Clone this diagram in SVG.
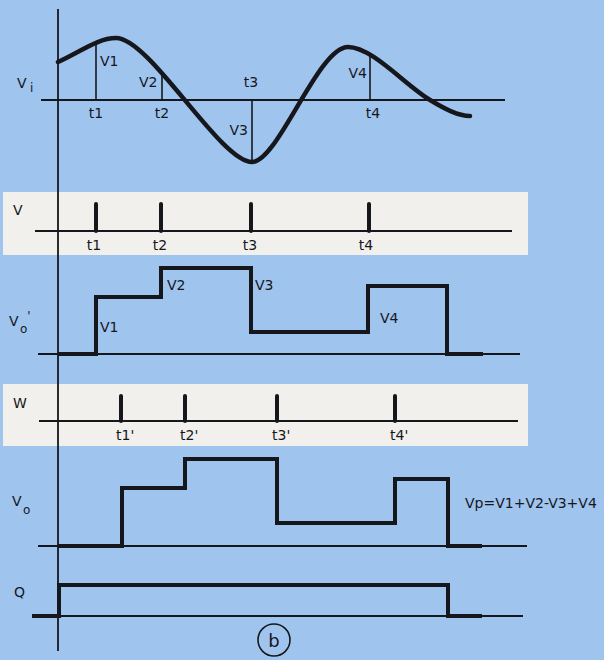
<svg xmlns="http://www.w3.org/2000/svg" width="604" height="660" viewBox="0 0 604 660">
<style>
.bg{fill:#9fc4ee}
.band{fill:#f1f0ec}
.ax{stroke:#16171d;stroke-width:1.8;fill:none}
.thin{stroke:#16171d;stroke-width:1.6;fill:none}
.curve{stroke:#16171d;stroke-width:4.5;fill:none;stroke-linecap:round}
.wave{stroke:#16171d;stroke-width:4;fill:none;stroke-linejoin:miter}
.pulse{stroke:#16171d;stroke-width:4;stroke-linecap:round}
text{font-family:"DejaVu Sans","Liberation Sans",sans-serif;font-size:14px;fill:#16171d}
.tc{text-anchor:middle}
.sub{font-size:12px}
</style>
<rect class="bg" x="0" y="0" width="604" height="660"/>
<g id="bands">
<rect class="band" x="3" y="192" width="525" height="63"/>
<rect class="band" x="3" y="384" width="525" height="62"/>
</g>
<g id="axis-main">
<line class="ax" x1="58" y1="9" x2="58" y2="651"/>
</g>
<g id="vi-plot">
<line class="ax" x1="41" y1="100" x2="505" y2="100"/>
<path class="curve" d="M58,62 C80,52 98,38 116,38 C150,38 220,162 252,162 C278,162 318,47 348,47 C372,47 405,85 430,100 C445,109 458,116 470,116"/>
<line class="thin" x1="96" y1="43" x2="96" y2="100"/>
<line class="thin" x1="162" y1="72" x2="162" y2="100"/>
<line class="thin" x1="252" y1="100" x2="252" y2="160"/>
<line class="thin" x1="370" y1="56" x2="370" y2="100"/>
<text x="17" y="88">V</text>
<text class="sub" x="30" y="92">i</text>
<text x="100" y="66">V1</text>
<text x="139" y="87">V2</text>
<text x="248" y="135" text-anchor="end">V3</text>
<text x="367" y="78" text-anchor="end">V4</text>
<text class="tc" x="96" y="118">t1</text>
<text class="tc" x="162" y="118">t2</text>
<text class="tc" x="251" y="87">t3</text>
<text class="tc" x="373" y="118">t4</text>
</g>
<g id="v-plot">
<line class="ax" x1="35" y1="231" x2="512" y2="231"/>
<line class="pulse" x1="96" y1="204" x2="96" y2="231"/>
<line class="pulse" x1="161" y1="204" x2="161" y2="231"/>
<line class="pulse" x1="251" y1="204" x2="251" y2="231"/>
<line class="pulse" x1="369" y1="204" x2="369" y2="231"/>
<text x="13" y="215">V</text>
<text class="tc" x="94" y="250">t1</text>
<text class="tc" x="160" y="250">t2</text>
<text class="tc" x="250" y="250">t3</text>
<text class="tc" x="366" y="250">t4</text>
</g>
<g id="vo-prime-plot">
<line class="ax" x1="38" y1="354" x2="520" y2="354"/>
<path class="wave" d="M58,354 H96 V297 H161 V268 H251 V332 H368 V286 H447 V354 H483"/>
<text x="9" y="326">V</text>
<text class="sub" x="20" y="333">o<tspan dy="-13">'</tspan></text>
<text x="100" y="332">V1</text>
<text x="167" y="290">V2</text>
<text x="255" y="290">V3</text>
<text x="380" y="323">V4</text>
</g>
<g id="w-plot">
<line class="ax" x1="39" y1="421" x2="518" y2="421"/>
<line class="pulse" x1="121" y1="396" x2="121" y2="421"/>
<line class="pulse" x1="185" y1="396" x2="185" y2="421"/>
<line class="pulse" x1="277" y1="396" x2="277" y2="421"/>
<line class="pulse" x1="395" y1="396" x2="395" y2="421"/>
<text x="13" y="408">W</text>
<text x="116" y="440">t1'</text>
<text x="180" y="440">t2'</text>
<text x="272" y="440">t3'</text>
<text x="390" y="440">t4'</text>
</g>
<g id="vo-plot">
<line class="ax" x1="38" y1="546" x2="527" y2="546"/>
<path class="wave" d="M58,546 H122 V488 H185 V459 H277 V523 H395 V479 H448 V546 H482"/>
<text x="12" y="506">V</text>
<text class="sub" x="23" y="514">o</text>
<text x="465" y="508">Vp=V1+V2-V3+V4</text>
</g>
<g id="q-plot">
<line class="ax" x1="32" y1="616" x2="523" y2="616"/>
<path class="wave" d="M32,616 H59 V585 H448 V616 H482"/>
<text x="14" y="597">Q</text>
</g>
<g id="caption">
<circle cx="274" cy="640" r="16" fill="none" stroke="#16171d" stroke-width="1.6"/>
<text class="tc" x="274" y="647" style="font-size:18px">b</text>
</g>
</svg>
